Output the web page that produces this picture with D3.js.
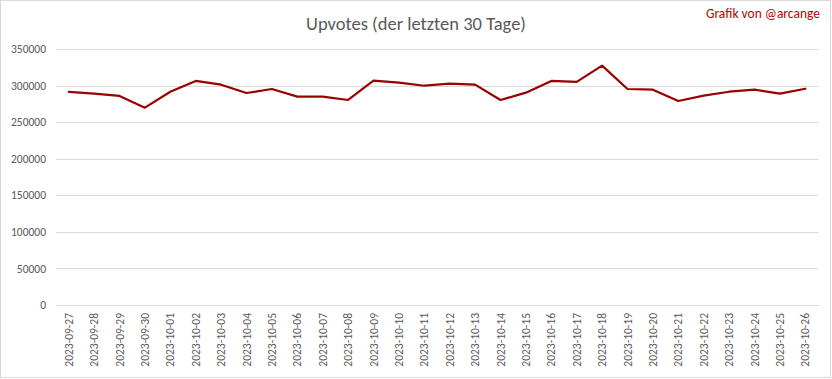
<!DOCTYPE html>
<html><head><meta charset="utf-8">
<script src="https://cdn.jsdelivr.net/npm/d3@7"></script>
<style>body{margin:0;background:#fff}svg{display:block}text{font-family:Carlito,Calibri,Lato,sans-serif}</style>
</head><body><svg id="c" width="832" height="379"></svg>
<script>
const dates = ["2023-09-27","2023-09-28","2023-09-29","2023-09-30","2023-10-01","2023-10-02","2023-10-03","2023-10-04","2023-10-05","2023-10-06","2023-10-07","2023-10-08","2023-10-09","2023-10-10","2023-10-11","2023-10-12","2023-10-13","2023-10-14","2023-10-15","2023-10-16","2023-10-17","2023-10-18","2023-10-19","2023-10-20","2023-10-21","2023-10-22","2023-10-23","2023-10-24","2023-10-25","2023-10-26"];
const upvotes = [291500,289000,285800,269800,291600,306300,301200,289800,295300,284900,284800,280300,306700,304000,299800,302600,301300,280300,290300,306300,305100,327200,295300,294400,278900,286200,291600,294400,288900,295700];
const yTicks = [0,50000,100000,150000,200000,250000,300000,350000];
const title = "Upvotes (der letzten 30 Tage)";
const credit = "Grafik von @arcange";

const svg = d3.select("#c");
svg.append("rect").attr("x",0.5).attr("y",0.5).attr("width",830).attr("height",377)
  .attr("fill","#fff").attr("stroke","#d9d9d9");

const x = d3.scaleBand().domain(dates).range([56,818]).padding(0);
const y = d3.scaleLinear().domain([0,350000]).range([305,49]);

const yAxis = d3.axisLeft(y).tickValues(yTicks).tickSize(-(818-56)).tickFormat(d3.format("d")).tickPadding(10);
const gy = svg.append("g").attr("transform","translate(56,0)").call(yAxis);
gy.select(".domain").remove();
gy.selectAll(".tick line").attr("stroke","#d9d9d9").attr("shape-rendering","crispEdges");
gy.selectAll(".tick text").attr("fill","#595959").attr("font-size","11.5px");

const xAxis = d3.axisBottom(x).tickSize(0).tickPadding(0);
const gx = svg.append("g").attr("transform","translate(0,305)").call(xAxis);
gx.select(".domain").attr("stroke","#d9d9d9").attr("shape-rendering","crispEdges");
gx.selectAll(".tick text").attr("fill","#595959").attr("font-size","11.5px")
  .attr("transform","rotate(-90)").attr("text-anchor","end")
  .attr("x",-8).attr("y",0).attr("dy","0.35em");

const line = d3.line().x(d=>x(d.date)+x.bandwidth()/2).y(d=>y(d.v));
svg.append("path").datum(dates.map((d,i)=>({date:d,v:upvotes[i]})))
  .attr("d",line).attr("fill","none").attr("stroke","#9b0000").attr("stroke-width",2.2)
  .attr("stroke-linejoin","round").attr("stroke-linecap","round");

svg.append("text").attr("x",416).attr("y",30).attr("text-anchor","middle")
  .attr("fill","#595959").attr("font-size","18.5px").text(title);
svg.append("text").attr("x",820).attr("y",18).attr("text-anchor","end")
  .attr("fill","#c00000").attr("font-size","13.5px").text(credit);
</script></body></html>
